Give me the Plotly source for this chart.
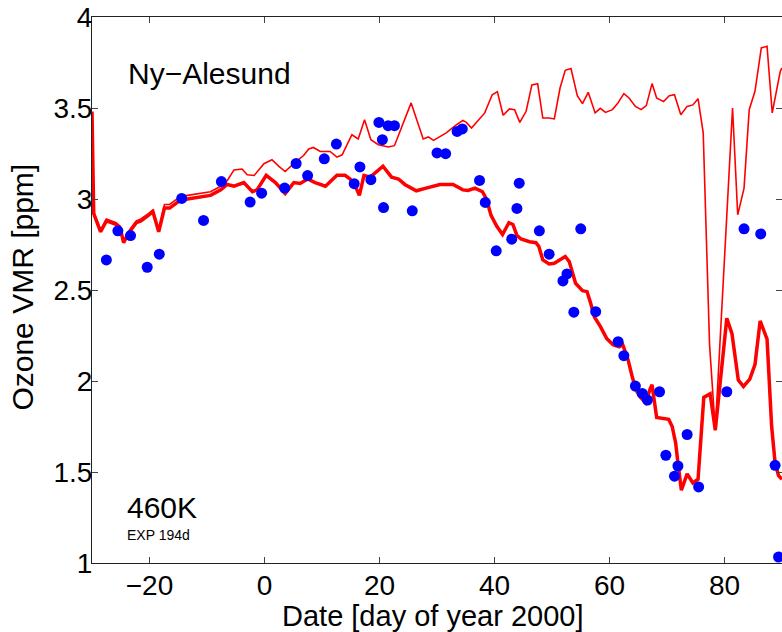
import plotly.graph_objects as go

# ---- data ----
thick_x = [-30.0, -29.7, -28.5, -27.5, -25.8, -25.1, -24.5, -23.7, -22.3, -21.5, -20.2, -19.4, -18.4,
           -17.4, -16.5, -15.7, -14.8, -13.4, -11.1, -9.4, -7.6, -6.5, -5.3, -3.6, -2.1, -1.3, 0.3,
           1.9, 3.6, 5.1, 6.2, 7.5, 8.8, 10.6, 12.6, 14.0, 14.9, 15.8, 16.5, 17.3, 18.4, 20.6, 22.1,
           23.3, 24.4, 26.4, 28.1, 30.5, 32.8, 34.5, 35.4, 36.6, 37.9, 38.6, 39.4, 40.4, 41.4, 42.5,
           43.2, 43.9, 44.6, 46.1, 47.2, 47.7, 48.4, 49.5, 50.4, 51.3, 52.3, 53.0, 54.1, 55.3, 56.1,
           56.7, 57.4, 58.4, 59.5, 60.6, 61.7, 62.3, 63.2, 63.9, 64.6, 65.4, 66.3, 67.1, 67.4, 68.2,
           70.3, 70.9, 71.5, 71.9, 72.5, 73.5, 74.5, 75.4, 76.4, 77.5, 78.4, 80.4, 81.3, 82.4, 83.3,
           84.4, 85.3, 86.2, 87.4, 88.2, 88.8, 89.4, 90.0]
thick_y = [3.48, 2.92, 2.82, 2.88, 2.86, 2.84, 2.76, 2.81, 2.87, 2.88, 2.91, 2.93, 2.82,
           2.95, 2.95, 2.97, 2.99, 3.00, 3.01, 3.02, 3.05, 3.08, 3.07, 3.09, 3.04, 3.05, 3.13,
           3.09, 3.03, 3.09, 3.085, 3.11, 3.09, 3.07, 3.13, 3.13, 3.11, 3.07, 3.02, 3.13, 3.12, 3.18, 3.12,
           3.11, 3.08, 3.045, 3.06, 3.08, 3.08, 3.05, 3.047, 3.06, 3.04, 3.00, 2.91, 2.85, 2.805, 2.87,
           2.86, 2.80, 2.78, 2.765, 2.76, 2.74, 2.665, 2.643, 2.647, 2.665, 2.684, 2.656, 2.537, 2.496, 2.491,
           2.43, 2.35, 2.30, 2.234, 2.20, 2.188, 2.20, 2.12, 2.03, 1.95, 1.91, 1.88, 1.96, 1.98, 1.80,
           1.79, 1.75, 1.66, 1.55, 1.40, 1.49, 1.44, 1.46, 1.91, 1.93, 1.73, 2.345, 2.26, 2.005, 1.97,
           2.01, 2.09, 2.33, 2.23, 1.75, 1.55, 1.48, 1.46]

thin_x = [-30.0, -29.7, -28.5, -27.5, -25.8, -25.1, -24.5, -23.7, -22.3, -21.5, -20.2, -19.4, -18.4,
          -17.4, -16.5, -15.7, -14.8, -13.4, -11.1, -9.4, -7.6, -6.5, -5.3, -3.9, -3.0, -1.8, -0.1,
          1.3, 2.5, 3.6, 5.2, 6.8, 7.7, 8.5, 9.7, 11.4, 12.6, 13.5, 15.2, 16.3, 17.4, 18.5, 19.8,
          21.5, 22.6, 25.5, 27.6, 28.5, 29.4, 31.6, 33.4, 34.5, 35.1, 36.0, 38.3, 39.6, 40.5, 41.5,
          42.6, 43.5, 44.4, 45.5, 46.5, 47.5, 48.4, 49.5, 50.4, 51.4, 52.3, 53.3, 54.4, 55.3, 56.3,
          57.5, 58.4, 59.3, 60.5, 61.4, 62.5, 63.4, 64.5, 65.5, 66.4, 67.4, 68.2, 69.4, 70.4, 71.3,
          72.4, 73.5, 74.5, 75.4, 76.3, 77.4, 78.4, 81.4, 82.3, 83.4, 84.3, 85.3, 86.4, 87.4, 88.3,
          89.7, 90.0]
thin_y = [3.48, 2.93, 2.83, 2.89, 2.87, 2.85, 2.77, 2.82, 2.88, 2.89, 2.92, 2.94, 2.83,
          2.97, 2.97, 2.99, 3.01, 3.02, 3.03, 3.04, 3.07, 3.10, 3.16, 3.165, 3.133, 3.129, 3.194,
          3.216, 3.179, 3.151, 3.198, 3.239, 3.275, 3.283, 3.261, 3.261, 3.230, 3.243, 3.353, 3.330, 3.436, 3.326, 3.298,
          3.286, 3.293, 3.528, 3.330, 3.341, 3.322, 3.363, 3.408, 3.432, 3.421, 3.390, 3.473, 3.573, 3.59, 3.46,
          3.495, 3.491, 3.421, 3.482, 3.627, 3.634, 3.445, 3.445, 3.440, 3.610, 3.707, 3.717, 3.568, 3.524, 3.586,
          3.473, 3.498, 3.476, 3.491, 3.524, 3.579, 3.555, 3.509, 3.491, 3.513, 3.634, 3.555, 3.535, 3.568, 3.573,
          3.463, 3.509, 3.517, 3.551, 3.363, 2.20, 1.73, 3.50, 2.913, 3.06, 3.491, 3.592, 3.830, 3.839, 3.473,
          3.702, 3.72]

obs_x = [-27.5, -25.5, -23.3, -20.4, -18.3, -14.4, -10.6, -7.5, -2.5, -0.5, 3.5, 5.5, 7.5, 10.4,
         12.5, 15.6, 16.6, 18.5, 19.9, 20.5, 20.7, 21.5, 22.6, 25.7, 30.0, 31.5, 33.5, 34.4, 37.4,
         38.4, 40.3, 43.0, 43.9, 44.3, 47.8, 49.5, 51.9, 52.6, 53.8, 55.0, 57.6, 61.5, 62.5, 64.5,
         65.7, 66.6, 68.7, 69.8, 71.3, 71.9, 73.5, 75.5, 80.4, 83.4, 86.3, 88.8, 89.4]
obs_y = [2.665, 2.825, 2.799, 2.625, 2.697, 3.003, 2.882, 3.096, 2.983, 3.032, 3.060, 3.195, 3.129, 3.221,
         3.302, 3.084, 3.176, 3.106, 3.421, 3.326, 2.953, 3.403, 3.403, 2.935, 3.253, 3.249, 3.371, 3.385, 3.102,
         2.981, 2.715, 2.779, 2.948, 3.087, 2.825, 2.697, 2.550, 2.588, 2.378, 2.836, 2.381, 2.216, 2.139, 1.972,
         1.932, 1.895, 1.941, 1.592, 1.477, 1.533, 1.706, 1.418, 1.941, 2.836, 2.808, 1.537, 1.033]

x_ticks = [-20, 0, 20, 40, 60, 80]
y_ticks = [1, 1.5, 2, 2.5, 3, 3.5, 4]

FONT = "Liberation Sans"
RED = "#ff0000"
BLUE = "#0000ff"

fig = go.Figure()
fig.add_trace(go.Scatter(x=thin_x, y=thin_y, mode="lines",
                         line=dict(color=RED, width=1.6), showlegend=False))
fig.add_trace(go.Scatter(x=thick_x, y=thick_y, mode="lines",
                         line=dict(color=RED, width=3.5), showlegend=False))
fig.add_trace(go.Scatter(x=obs_x, y=obs_y, mode="markers",
                         marker=dict(color=BLUE, size=11, line=dict(width=0)), showlegend=False))

axis_common = dict(showgrid=False, zeroline=False, showline=True, linecolor="#222222", linewidth=1,
                   mirror="ticks", ticks="inside", ticklen=6, tickcolor="#444444", tickwidth=1,
                   tickfont=dict(family=FONT, size=28, color="black"))

fig.update_xaxes(range=[-30, 90], tickvals=x_ticks, ticklabelstandoff=-3, **axis_common)
fig.update_yaxes(range=[1, 4], tickvals=y_ticks, ticklabelstandoff=-7, **axis_common)

ann_font = dict(family=FONT, color="black")
fig.update_layout(
    width=782, height=632, autosize=False,
    margin=dict(l=92, r=0, t=17, b=69),
    paper_bgcolor="white", plot_bgcolor="white",
    annotations=[
        dict(text="Date [day of year 2000]", xref="paper", yref="paper", x=0.494, y=-0.097,
             xanchor="center", yanchor="middle", showarrow=False, font=dict(size=29, **ann_font)),
        dict(text="Ozone VMR [ppm]", xref="paper", yref="paper", x=-0.101, y=0.505, textangle=-90,
             xanchor="center", yanchor="middle", showarrow=False, font=dict(size=30, **ann_font)),
        dict(text="Ny\u2212Alesund", xref="x", yref="y", x=-9.5, y=3.69,
             xanchor="center", yanchor="middle", showarrow=False, font=dict(size=30, **ann_font)),
        dict(text="460K", xref="x", yref="y", x=-24.3, y=1.305,
             xanchor="left", yanchor="middle", showarrow=False, font=dict(size=30, **ann_font)),
        dict(text="EXP 194d", xref="x", yref="y", x=-24.3, y=1.152,
             xanchor="left", yanchor="middle", showarrow=False, font=dict(size=14, **ann_font)),
    ],
)

fig.write_html("out.html")
